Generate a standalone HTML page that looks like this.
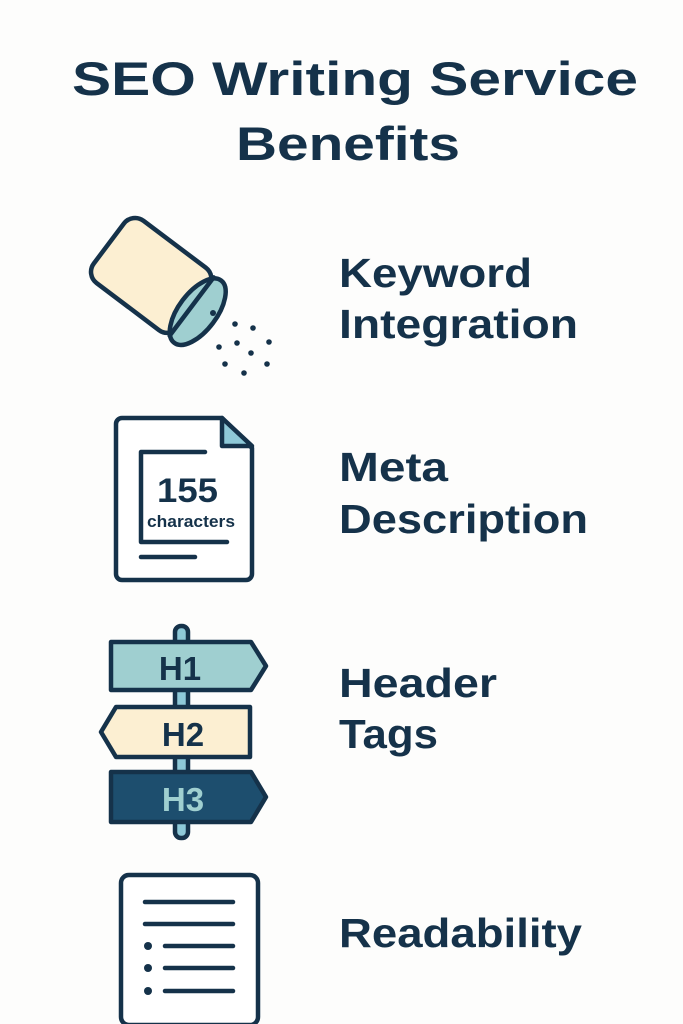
<!DOCTYPE html>
<html><head><meta charset="utf-8"><style>
html,body{margin:0;padding:0;background:#fdfdfc;}
svg{display:block;}
text{font-family:"Liberation Sans",sans-serif;font-weight:bold;fill:#15324a;}
</style></head><body>
<svg width="683" height="1024" viewBox="0 0 683 1024">
<rect width="683" height="1024" fill="#fdfdfc"/>
<text x="72" y="95" font-size="47" textLength="566" lengthAdjust="spacingAndGlyphs">SEO Writing Service</text>
<text x="236" y="160" font-size="47" textLength="224" lengthAdjust="spacingAndGlyphs">Benefits</text>

<text x="339" y="287" font-size="41" textLength="193" lengthAdjust="spacingAndGlyphs">Keyword</text>
<text x="339" y="338" font-size="41" textLength="239" lengthAdjust="spacingAndGlyphs">Integration</text>
<text x="339" y="481" font-size="41" textLength="109" lengthAdjust="spacingAndGlyphs">Meta</text>
<text x="339" y="533" font-size="41" textLength="249" lengthAdjust="spacingAndGlyphs">Description</text>
<text x="339" y="697" font-size="41" textLength="158" lengthAdjust="spacingAndGlyphs">Header</text>
<text x="339" y="748" font-size="41" textLength="99" lengthAdjust="spacingAndGlyphs">Tags</text>
<text x="339" y="947" font-size="41" textLength="243" lengthAdjust="spacingAndGlyphs">Readability</text>

<g stroke="#15324a" stroke-width="4.5" stroke-linejoin="round" stroke-linecap="round">
<g transform="translate(152,276) rotate(37)">
<rect x="-54" y="-39" width="106" height="78" rx="14" fill="#fcefd2"/>
<ellipse cx="58" cy="1" rx="19" ry="39" fill="#9fcfd0"/>
<line x1="50" y1="-36" x2="50" y2="37"/>
</g>
</g>
<g fill="#15324a">
<circle cx="213" cy="313" r="3"/>
<circle cx="235" cy="324" r="2.8"/><circle cx="253" cy="328" r="2.8"/>
<circle cx="219" cy="347" r="2.8"/><circle cx="237" cy="343" r="2.8"/><circle cx="269" cy="342" r="2.8"/>
<circle cx="251" cy="353" r="2.8"/><circle cx="225" cy="364" r="2.8"/><circle cx="267" cy="364" r="2.8"/>
<circle cx="244" cy="373" r="2.8"/>
</g>

<g stroke="#15324a" stroke-width="4.5" stroke-linejoin="round" stroke-linecap="round" fill="none">
<path d="M122,418 H222 L252,448 V574 a6,6 0 0 1 -6,6 H122 a6,6 0 0 1 -6,-6 V424 a6,6 0 0 1 6,-6 Z" fill="#fff"/>
<path d="M222,418 V446 H252 Z" fill="#8ec9d8"/>
<path d="M205,452 H141 V542 H227"/>
<line x1="141" y1="557" x2="195" y2="557"/>
</g>
<text x="157" y="502" font-size="34" textLength="61" lengthAdjust="spacingAndGlyphs">155</text>
<text x="147" y="527" font-size="17" textLength="88" lengthAdjust="spacingAndGlyphs">characters</text>

<g stroke="#15324a" stroke-width="4.5" stroke-linejoin="round">
<rect x="175" y="626" width="13" height="212" rx="6" fill="#8ec9d8"/>
<path d="M111,642 H251 L266,666 L251,690 H111 Z" fill="#9fcfd0"/>
<path d="M116,707 H250 V757 H116 L101,732 Z" fill="#fcefd2"/>
<path d="M111,772 H251 L266,797 L251,822 H111 Z" fill="#1d4e6e"/>
</g>
<text x="180" y="680" font-size="33" text-anchor="middle">H1</text>
<text x="183" y="746" font-size="33" text-anchor="middle">H2</text>
<text x="183" y="811" font-size="33" text-anchor="middle" style="fill:#9fcfd0">H3</text>

<g stroke="#15324a" stroke-width="4.5" stroke-linecap="round" fill="none">
<rect x="121" y="875" width="137" height="150" rx="8" fill="#fff"/>
<line x1="145" y1="902" x2="233" y2="902"/>
<line x1="145" y1="924" x2="233" y2="924"/>
<line x1="165" y1="946" x2="233" y2="946"/>
<line x1="165" y1="968" x2="233" y2="968"/>
<line x1="165" y1="991" x2="233" y2="991"/>
</g>
<g fill="#15324a">
<circle cx="148" cy="946" r="4"/><circle cx="148" cy="968" r="4"/><circle cx="148" cy="991" r="4"/>
</g>
</svg>
</body></html>
